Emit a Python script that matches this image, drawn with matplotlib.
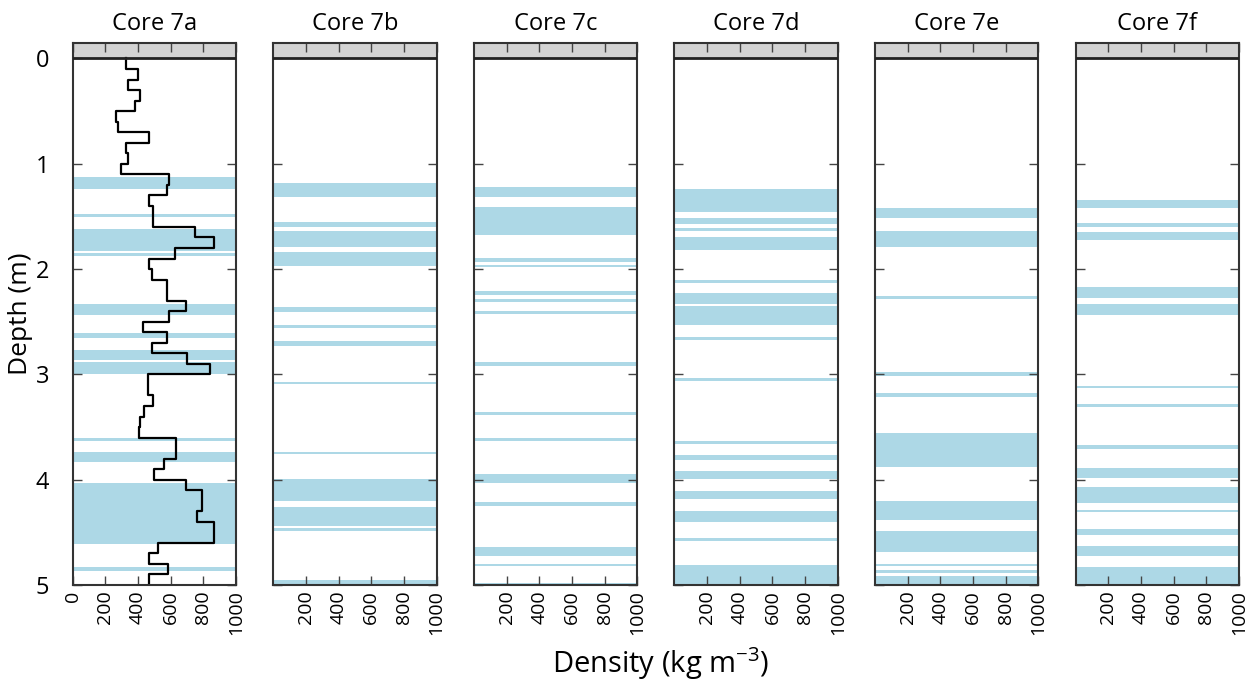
import numpy as np
import matplotlib
matplotlib.use('Agg')
import matplotlib.pyplot as plt

plt.rcParams['font.family'] = ['Open Sans', 'DejaVu Sans']
plt.rcParams['mathtext.default'] = 'regular'

# 岩芯名称
cores = ['Core 7a', 'Core 7b', 'Core 7c', 'Core 7d', 'Core 7e', 'Core 7f']

# 7a 的密度剖面，每 0.1 m 一个值 (kg m-3)
bin_size = 0.1
density_7a = [327, 397, 341, 413, 382, 266, 280, 470, 327, 337,
              294, 587, 577, 464, 491, 491, 750, 867, 628, 464,
              484, 577, 577, 695, 587, 433, 577, 484, 700, 838,
              458, 458, 491, 437, 413, 403, 634, 634, 556, 495,
              695, 791, 791, 760, 867, 867, 525, 464, 581, 470]

# 各岩芯的冰层/高密度层位置 (顶深, 底深), 单位 m
bands_7a = [(1.13, 1.24), (1.48, 1.51), (1.62, 1.83), (1.845, 1.88),
            (2.33, 2.44), (2.61, 2.65), (2.77, 2.86), (2.88, 3.0),
            (3.605, 3.63), (3.735, 3.83), (4.036, 4.61), (4.83, 4.865)]
bands_7b = [(1.18, 1.32), (1.557, 1.598), (1.636, 1.79), (1.84, 1.97),
            (2.36, 2.41), (2.53, 2.555), (2.68, 2.73), (3.07, 3.09),
            (3.735, 3.76), (3.99, 4.2), (4.26, 4.44), (4.46, 4.49),
            (4.95, 4.99)]
bands_7c = [(1.225, 1.313), (1.408, 1.68), (1.895, 1.937), (1.96, 1.985),
            (2.21, 2.244), (2.285, 2.317), (2.396, 2.43), (2.887, 2.918),
            (3.36, 3.387), (3.608, 3.637), (3.95, 4.033), (4.216, 4.248),
            (4.643, 4.72), (4.796, 4.824), (4.98, 5.0)]
bands_7d = [(1.24, 1.46), (1.516, 1.573), (1.611, 1.636), (1.693, 1.82),
            (2.105, 2.136), (2.231, 2.333), (2.355, 2.53), (2.643, 2.675),
            (3.035, 3.067), (3.637, 3.662), (3.77, 3.815), (3.916, 3.995),
            (4.105, 4.185), (4.3, 4.406), (4.55, 4.586), (4.81, 5.0)]
bands_7e = [(1.42, 1.519), (1.642, 1.794), (2.257, 2.288), (2.975, 3.013),
            (3.18, 3.212), (3.56, 3.884), (4.206, 4.384), (4.485, 4.69),
            (4.796, 4.824), (4.86, 4.887), (4.91, 5.0)]
bands_7f = [(1.342, 1.42), (1.567, 1.598), (1.652, 1.725), (2.174, 2.275),
            (2.333, 2.44), (3.112, 3.13), (3.28, 3.307), (3.672, 3.704),
            (3.89, 3.98), (4.065, 4.226), (4.286, 4.311), (4.47, 4.53),
            (4.634, 4.723), (4.827, 5.0)]
all_bands = [bands_7a, bands_7b, bands_7c, bands_7d, bands_7e, bands_7f]

depth_ticks = [0, 1, 2, 3, 4, 5]
density_ticks_first = [0, 200, 400, 600, 800, 1000]
density_ticks = [200, 400, 600, 800, 1000]

fig, axes = plt.subplots(1, 6, figsize=(12.54, 6.85), dpi=100, sharey=True)
fig.subplots_adjust(left=0.058, right=0.988, top=0.9377, bottom=0.146, wspace=0.228)

for i, ax in enumerate(axes):
    # 表层灰色条
    ax.axhspan(-0.15, 0, color='#d3d3d3', lw=0, zorder=0)
    ax.axhline(0, color='#222222', lw=2, zorder=3)
    for top, bot in all_bands[i]:
        ax.axhspan(top, bot, color='#add8e6', lw=0, zorder=1)
    if i == 0:
        edges = np.arange(len(density_7a) + 1) * bin_size
        y = np.repeat(edges, 2)[1:-1]
        x = np.repeat(density_7a, 2)
        ax.plot(x, y, color='black', lw=1.6, zorder=2)
        ax.set_xticks(density_ticks_first)
    else:
        ax.set_xticks(density_ticks)
    ax.set_xlim(0, 1000)
    ax.set_ylim(5, -0.15)
    ax.set_yticks(depth_ticks)
    ax.set_title(cores[i], fontsize=17, pad=9)
    ax.tick_params(axis='both', direction='in', length=6.5, width=1, color='#444444',
                   top=True, right=True)
    ax.tick_params(axis='x', labelrotation=90, labelsize=14, pad=4)
    ax.tick_params(axis='y', labelsize=17, pad=17)
    for s in ax.spines.values():
        s.set_color('#333333')
        s.set_linewidth(1.5)

fig.text(0.527, 0.032, 'Density (kg m$^{-3}$)', ha='center', va='center', fontsize=21)
fig.text(0.016, 0.542, 'Depth (m)', ha='center', va='center', rotation=90, fontsize=19)

plt.savefig('out.png', dpi=100)
